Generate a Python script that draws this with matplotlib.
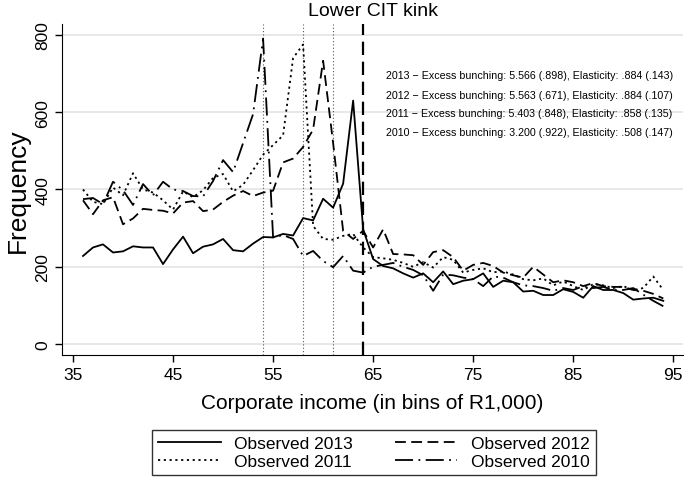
import matplotlib
matplotlib.use('Agg')

import numpy as np
import matplotlib.pyplot as plt

plt.rcParams['font.family'] = ['Liberation Sans', 'DejaVu Sans']

# income bins (R1,000)
bins = list(range(36, 95))

obs_2013 = [228, 250, 258, 237, 240, 253, 250, 250, 207, 245, 278, 235, 252, 258, 272,
            243, 240, 260, 277, 276, 285, 281, 326, 320, 376, 353, 415, 630, 297, 220,
            202, 196, 183, 172, 183, 160, 188, 155, 164, 168, 183, 148, 164, 160, 136,
            138, 127, 127, 142, 135, 120, 150, 140, 140, 132, 115, 118, 120, 112]
obs_2012 = [372, 336, 372, 380, 310, 325, 350, 347, 345, 338, 366, 370, 344, 348, 368,
            384, 396, 383, 392, 397, 470, 480, 510, 555, 733, 520, 293, 272, 293, 250,
            297, 233, 232, 230, 205, 238, 243, 225, 190, 205, 210, 202, 185, 178, 172,
            200, 180, 160, 165, 160, 150, 158, 150, 148, 148, 140, 138, 130, 118]
obs_2011 = [400, 368, 362, 405, 385, 442, 400, 392, 372, 348, 395, 380, 398, 430, 440,
            395, 412, 450, 490, 515, 540, 740, 775, 306, 272, 270, 280, 285, 250, 225,
            222, 218, 210, 200, 212, 198, 225, 218, 185, 192, 196, 186, 188, 180, 168,
            165, 170, 152, 162, 150, 140, 155, 152, 145, 150, 140, 145, 175, 140]
obs_2010 = [375, 378, 362, 420, 398, 360, 414, 385, 420, 400, 396, 383, 382, 422, 476,
            445, 520, 595, 790, 276, 282, 272, 228, 241, 215, 199, 228, 190, 185, 200,
            205, 210, 200, 192, 178, 138, 180, 178, 172, 168, 150, 175, 172, 160, 152,
            150, 145, 138, 145, 140, 150, 145, 148, 140, 140, 145, 128, 112, 98]

notes = ["2013 \u2212 Excess bunching: 5.566 (.898), Elasticity: .884 (.143)",
         "2012 \u2212 Excess bunching: 5.563 (.671), Elasticity: .884 (.107)",
         "2011 \u2212 Excess bunching: 5.403 (.848), Elasticity: .858 (.135)",
         "2010 \u2212 Excess bunching: 3.200 (.922), Elasticity: .508 (.147)"]
note_y = [696, 644, 598, 549]

bunch_lines = [54, 58, 61]
kink = 64

fig = plt.figure(figsize=(6.85, 4.81), dpi=100)
ax = fig.add_axes([0.0905, 0.26, 0.907, 0.688])

for v in [0, 200, 400, 600, 800]:
    ax.axhline(v, color='#e8e8e8', lw=1.4, zorder=0)

for b in bunch_lines:
    ax.axvline(b, color='#555555', lw=0.8, ls=(0, (1, 2)), zorder=1)
ax.axvline(kink, color='black', lw=1.6, ls=(0, (6, 3)), zorder=1)

l13, = ax.plot(bins, obs_2013, color='black', lw=1.3, ls='-')
l12, = ax.plot(bins, obs_2012, color='black', lw=1.3, ls=(0, (6, 3)))
l11, = ax.plot(bins, obs_2011, color='black', lw=1.3, ls=(0, (1.2, 2)))
l10, = ax.plot(bins, obs_2010, color='black', lw=1.3, ls=(0, (10, 3, 1, 3)))

for t, y in zip(notes, note_y):
    ax.text(66.3, y, t, fontsize=7.7, va='center', ha='left')

ax.set_xlim(33.9, 96)
ax.set_ylim(-28, 828)
ax.set_xticks([35, 45, 55, 65, 75, 85, 95])
ax.set_yticks([0, 200, 400, 600, 800])
ax.tick_params(axis='both', labelsize=12.5, length=5, width=1)
plt.setp(ax.get_yticklabels(), rotation=90, va='center')
for s in ['top', 'right']:
    ax.spines[s].set_visible(False)
ax.set_xlabel('Corporate income (in bins of R1,000)', fontsize=15, labelpad=8)
ax.set_ylabel('Frequency', fontsize=19, labelpad=4)

fig.text(0.545, 1 - 11/481, 'Lower CIT kink', ha='center', va='center', fontsize=14)

# column-first fill: 2013/2011 in col 1, 2012/2010 in col 2
leg = fig.legend([l13, l11, l12, l10],
                 ['Observed 2013', 'Observed 2011', 'Observed 2012', 'Observed 2010'],
                 loc='lower center', bbox_to_anchor=(0.546, -0.008), ncol=2, fontsize=12.5,
                 handlelength=3.6, handletextpad=0.8, frameon=True, fancybox=False,
                 edgecolor='black', columnspacing=2.4, borderpad=0.35, labelspacing=0.15)
leg.get_frame().set_linewidth(1)

fig.savefig('out.png', dpi=100)
